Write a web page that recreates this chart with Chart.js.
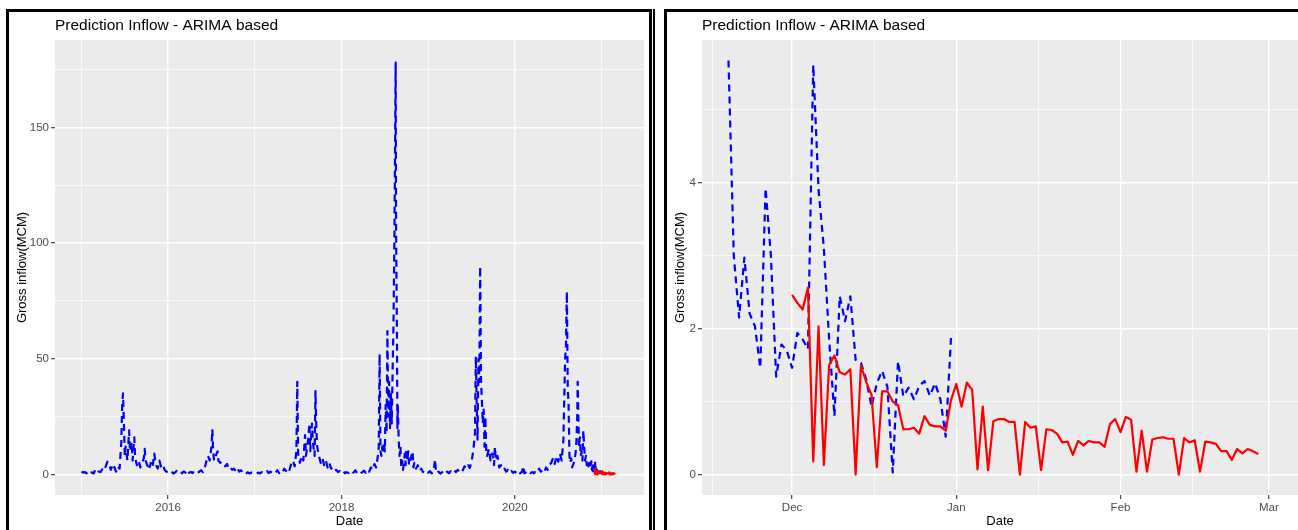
<!DOCTYPE html>
<html>
<head>
<meta charset="utf-8">
<title>Prediction Inflow - ARIMA based</title>
<script src="https://cdn.jsdelivr.net/npm/chart.js@4.4.1/dist/chart.umd.min.js"></script>
<style>
  html, body { margin: 0; padding: 0; background: #fff; }
  body { position: relative; width: 1298px; height: 530px; overflow: hidden; }
  canvas { position: absolute; }
  .frame { position: absolute; box-sizing: border-box; border: 3px solid #000; pointer-events: none; }
  .rule { position: absolute; background: #000; pointer-events: none; }
</style>
</head>
<body>
<canvas id="fullChart" width="640" height="518" style="left:9px;top:12px;width:640px;height:518px"></canvas>
<canvas id="zoomChart" width="631" height="517" style="left:667px;top:13px;width:631px;height:517px"></canvas>
<div class="frame" style="left:6px;top:9px;width:646px;height:560px"></div>
<div class="rule" style="left:653px;top:9px;width:2px;height:560px"></div>
<div class="frame" style="left:664px;top:9px;width:700px;height:560px"></div>

<script>
'use strict';

// ─── Observed inflow, full record (decimal year, MCM) ───
const histYear = [
  2015.00, 2015.02, 2015.04, 2015.06, 2015.08, 2015.10, 2015.12, 2015.14, 2015.16, 2015.18, 2015.20, 2015.22, 2015.24, 2015.26, 2015.28, 2015.30, 2015.32, 2015.34, 2015.36, 2015.38, 2015.40, 2015.42, 2015.44,
  2015.46, 2015.47, 2015.48, 2015.49, 2015.50, 2015.51, 2015.53, 2015.55, 2015.56, 2015.58, 2015.59, 2015.61, 2015.62, 2015.64, 2015.66, 2015.68, 2015.70, 2015.72, 2015.73, 2015.74, 2015.76, 2015.78, 2015.80, 2015.82, 2015.84, 2015.86, 2015.88, 2015.90, 2015.92, 2015.94, 2015.96, 2015.98,

  2016.00, 2016.02, 2016.04, 2016.06, 2016.08, 2016.10, 2016.12, 2016.14, 2016.16, 2016.18, 2016.20, 2016.22, 2016.24, 2016.26, 2016.28, 2016.30, 2016.32, 2016.34, 2016.36, 2016.38, 2016.40, 2016.42, 2016.44, 2016.46, 2016.48, 2016.50,
  2016.51, 2016.52, 2016.53, 2016.55, 2016.57, 2016.58,
  2016.60, 2016.62, 2016.64, 2016.66, 2016.68, 2016.70, 2016.72, 2016.74, 2016.76, 2016.78, 2016.80, 2016.82, 2016.84, 2016.86, 2016.88, 2016.90, 2016.92, 2016.94, 2016.96, 2016.98,

  2017.00, 2017.02, 2017.04, 2017.06, 2017.08, 2017.10, 2017.12, 2017.14, 2017.16, 2017.18, 2017.20, 2017.22, 2017.24, 2017.26, 2017.28, 2017.30, 2017.32, 2017.34, 2017.36, 2017.38, 2017.40, 2017.42, 2017.44, 2017.46,
  2017.48, 2017.49, 2017.50, 2017.52, 2017.54, 2017.56, 2017.58, 2017.59, 2017.61, 2017.63, 2017.64, 2017.66, 2017.67, 2017.69, 2017.70, 2017.71, 2017.72, 2017.74, 2017.76, 2017.78, 2017.80, 2017.82, 2017.84, 2017.86, 2017.88, 2017.90, 2017.92, 2017.94, 2017.96, 2017.98,

  2018.00, 2018.02, 2018.04, 2018.06, 2018.08, 2018.10, 2018.12, 2018.14, 2018.16, 2018.18, 2018.20, 2018.22, 2018.24, 2018.26, 2018.28, 2018.30, 2018.32, 2018.34, 2018.36, 2018.38, 2018.40,
  2018.42, 2018.43, 2018.44, 2018.45, 2018.46, 2018.47, 2018.48, 2018.49, 2018.50, 2018.51, 2018.52, 2018.53, 2018.54, 2018.55, 2018.56, 2018.57, 2018.58, 2018.59, 2018.60, 2018.61, 2018.62,
  2018.625, 2018.63, 2018.64, 2018.645, 2018.65,
  2018.66, 2018.67, 2018.68, 2018.69, 2018.70, 2018.71, 2018.72, 2018.73, 2018.74, 2018.75, 2018.76, 2018.77, 2018.78,
  2018.80, 2018.82, 2018.83, 2018.84, 2018.86, 2018.88, 2018.90, 2018.92, 2018.94, 2018.96, 2018.98,

  2019.00, 2019.02, 2019.04, 2019.06, 2019.08, 2019.09,
  2019.10, 2019.12, 2019.14, 2019.16, 2019.18, 2019.20, 2019.22, 2019.24, 2019.26, 2019.28, 2019.30, 2019.32, 2019.34, 2019.36, 2019.38, 2019.40, 2019.42, 2019.44, 2019.46, 2019.48, 2019.50,
  2019.52, 2019.54,
  2019.55, 2019.56, 2019.57, 2019.58, 2019.59, 2019.60, 2019.61, 2019.62, 2019.63, 2019.64, 2019.65, 2019.66, 2019.67, 2019.68,
  2019.70, 2019.72, 2019.74, 2019.76, 2019.77, 2019.78,
  2019.80, 2019.82, 2019.84, 2019.86, 2019.88, 2019.90, 2019.92, 2019.94, 2019.96, 2019.98,

  2020.00, 2020.02, 2020.04, 2020.06, 2020.08, 2020.10, 2020.11,
  2020.12, 2020.14, 2020.16, 2020.18, 2020.20, 2020.22, 2020.24, 2020.26, 2020.28, 2020.30, 2020.32, 2020.34, 2020.36, 2020.38, 2020.40, 2020.42, 2020.44, 2020.46, 2020.48, 2020.50, 2020.52, 2020.54, 2020.56, 2020.58,
  2020.59, 2020.60, 2020.61, 2020.62, 2020.63, 2020.64, 2020.65, 2020.66,
  2020.68, 2020.70, 2020.71, 2020.72, 2020.725, 2020.73,
  2020.74, 2020.75, 2020.76, 2020.77, 2020.78, 2020.79, 2020.80, 2020.81, 2020.82, 2020.83, 2020.84, 2020.85, 2020.86, 2020.87
];

const histFlow = [
  1.2, 0.8, 1.0, 0.5, 1.5, 0.6, 0.9, 0.4, 2.0, 0.7, 1.3, 1.0, 2.2, 1.5, 3.5, 5.5, 4.0, 2.0, 4.5, 3.0, 1.2, 3.5, 2.5,
  14, 30, 35, 22, 8, 12, 6, 19, 10, 14, 6, 16, 7, 4, 6, 3, 5, 7, 11, 6, 4, 2, 5, 3, 9, 4, 2.5, 6, 3, 4, 2, 1.2,

  1.0, 0.5, 1.2, 0.4, 0.9, 1.5, 0.6, 1.0, 0.5, 1.3, 0.8, 2.0, 0.7, 1.1, 0.6, 1.4, 0.9, 0.5, 1.2, 1.8, 1.0, 2.5, 5.5, 8, 6, 12,
  19.5, 10, 6, 8, 10, 6,
  5, 5.5, 4, 3.5, 4.5, 2.5, 3, 2, 2.5, 1.5, 2.8, 1.2, 1.8, 0.8, 1.2, 0.5, 0.9, 0.4, 0.8, 0.5,

  0.6, 0.3, 0.8, 0.4, 1.0, 0.5, 0.9, 1.5, 0.6, 1.2, 0.7, 1.4, 0.8, 1.8, 0.6, 1.5, 0.9, 2.5, 1.5, 3.0, 2.0, 4.5, 6, 3.5,
  10, 40, 9, 5, 8, 6, 17, 8, 13, 22, 10, 22, 14, 8, 36, 20, 12, 8, 5, 7, 4, 6, 3, 5, 2.5, 3, 1.5, 2, 1.0, 1.5,

  0.8, 1.5, 0.5, 1.0, 0.6, 1.3, 0.4, 0.9, 1.8, 0.6, 1.2, 0.5, 1.0, 1.6, 0.7, 2.0, 1.2, 3.0, 2.0, 4.5, 3.0,
  8, 12, 52, 10, 8, 12, 9, 14, 10, 30, 18, 62, 25, 40, 20, 35, 22, 45, 65, 100, 150,
  178, 105, 60, 20, 30,
  15, 8, 12, 3, 6, 2, 5, 9, 4, 11, 6, 10, 4,
  7, 10, 3, 5, 2.5, 4, 1.5, 2.5, 1.0, 1.8, 0.8,

  0.8, 1.4, 0.5, 1.0, 6.5, 1.0,
  0.5, 1.2, 0.4, 0.9, 1.6, 0.6, 1.2, 0.5, 1.4, 0.8, 1.8, 1.0, 2.0, 1.3, 2.5, 1.8, 3.5, 2.5, 4.0, 2.8, 5.5,
  10, 18,
  51, 30, 15, 50, 40, 90, 40, 32, 22, 28, 12, 25, 10, 8,
  11, 6, 9, 4, 12, 6,
  8, 3, 4, 2, 2.5, 1.2, 2.0, 0.8, 1.5, 0.7,

  1.2, 0.6, 1.5, 0.5, 1.0, 3.6, 0.5,
  0.9, 0.4, 1.2, 0.6, 1.0, 0.5, 1.4, 0.8, 2.5, 1.2, 1.8, 0.9, 3.0, 2.0, 4.0, 5.0, 7.0, 4.5, 8.0, 5.5, 9.0, 6.0, 15, 50,
  56, 79, 38, 30, 8, 5, 7, 3,
  5, 9, 14, 25, 40, 30,
  12, 16, 8, 10, 6, 19, 12, 6, 8, 4, 6, 3.5, 5, 3
];

// ─── Observed inflow, last weeks (day 0 = 1 Dec 2020, starts 19 Nov) ───
const tailFirstDay = -12;
const tailFlow = [
  5.67, 3.0, 2.15, 2.97, 2.2, 2.03, 1.46, 3.92, 3.0, 1.34, 1.78, 1.7,
  1.46, 1.94, 1.85, 1.72, 5.61, 3.9, 3.1, 1.85, 0.8, 2.44,
  2.1, 2.44, 1.57, 1.53, 1.3, 0.93, 1.25, 1.42, 1.2, 0.03,
  1.55, 1.07, 1.19, 1.03, 1.21, 1.28, 1.08, 1.25, 1.03, 0.52,
  1.87
];

// ─── ARIMA forecast (day 0 = 1 Dec 2020 ... 27 Feb 2021) ───
const forecastFlow = [
  2.46, 2.35, 2.26, 2.56, 0.18, 2.03, 0.13, 1.5, 1.63, 1.4,
  1.37, 1.44, 0.0, 1.49, 1.27, 1.09, 0.1, 1.14, 1.14, 1.0,
  0.95, 0.62, 0.62, 0.64, 0.56, 0.8, 0.68, 0.66, 0.66, 0.6,
  1.02, 1.24, 0.93, 1.26, 1.16, 0.07, 0.93, 0.06, 0.73, 0.76,
  0.76, 0.72, 0.72, 0.0, 0.72, 0.64, 0.66, 0.06, 0.62, 0.61,
  0.56, 0.44, 0.45, 0.27, 0.46, 0.4, 0.46, 0.44, 0.44, 0.38,
  0.69, 0.76, 0.58, 0.79, 0.75, 0.04, 0.6, 0.04, 0.48, 0.5,
  0.51, 0.49, 0.49, 0.0, 0.5, 0.44, 0.47, 0.04, 0.45, 0.44,
  0.42, 0.32, 0.32, 0.2, 0.35, 0.29, 0.35, 0.32, 0.28
];

// ─── Axis breaks ───
const fullYearMajor = [2016, 2018, 2020];
const fullYearMinor = [2015, 2017, 2019, 2021];
const fullFlowMajor = [0, 50, 100, 150];
const fullFlowMinor = [25, 75, 125, 175];

const monthDays = [0, 31, 62, 90];          // Dec, Jan, Feb, Mar
const monthLabels = ['Dec', 'Jan', 'Feb', 'Mar'];
const monthMinorDays = [-15, 15.5, 46.5, 75.5];
const zoomFlowMajor = [0, 2, 4];
const zoomFlowMinor = [1, 3, 5];

const FONT = "'Liberation Sans', Arial, Helvetica, sans-serif";
const BLUE = '#0000FF';
const RED = '#FF0000';

// day offset from 1 Dec 2020 -> decimal year
function dayToYear(d) {
  return d < 31 ? 2020 + (335 + d) / 366 : 2021 + (d - 31) / 365;
}

// ggplot-ish grey panel behind the plot area
const panelBackground = {
  id: 'panelBackground',
  beforeDraw(chart) {
    const { ctx, chartArea: a } = chart;
    ctx.save();
    ctx.fillStyle = '#EBEBEB';
    ctx.fillRect(a.left, a.top, a.right - a.left, a.bottom - a.top);
    ctx.restore();
  }
};

function ggAxis({ min, max, major, minor, label, title, size, titlePad }) {
  const isMajor = v => major.includes(v);
  return {
    type: 'linear',
    min, max,
    afterBuildTicks: axis => {
      axis.ticks = [...major, ...minor].sort((a, b) => a - b).map(v => ({ value: v }));
    },
    afterFit: axis => {
      if (axis.isHorizontal()) axis.height = size; else axis.width = size;
    },
    grid: {
      color: '#FFFFFF',
      lineWidth: c => (c.tick && isMajor(c.tick.value) ? 1.4 : 0.7),
      drawTicks: true,
      tickLength: 4,
      tickWidth: 1.1,
      tickColor: c => (c.tick && isMajor(c.tick.value) ? '#333333' : 'rgba(0,0,0,0)'),
    },
    border: { display: false },
    ticks: {
      autoSkip: false,
      maxRotation: 0,
      padding: 2,
      color: '#4D4D4D',
      font: { family: FONT, size: 11.5 },
      callback: v => (isMajor(v) ? label(v) : ''),
    },
    title: {
      display: true,
      text: title,
      color: '#000000',
      font: { family: FONT, size: 13 },
      padding: titlePad,
    },
  };
}

function lineSet(points, color, dashed) {
  return {
    data: points,
    borderColor: color,
    borderWidth: 2.2,
    borderDash: dashed ? [7, 5] : [],
    borderCapStyle: 'butt',
    borderJoinStyle: 'round',
    pointRadius: 0,
    tension: 0,
    fill: false,
  };
}

function baseOptions(titlePad, layoutPad, scales) {
  return {
    responsive: false,
    animation: false,
    devicePixelRatio: 1,
    layout: { padding: layoutPad },
    plugins: {
      legend: { display: false },
      tooltip: { enabled: false },
      title: {
        display: true,
        text: 'Prediction Inflow - ARIMA based',
        align: 'start',
        fullSize: false,
        color: '#000000',
        font: { family: FONT, size: 15.5, weight: 'normal' },
        padding: titlePad,
      },
    },
    scales,
  };
}

// ─── Left: whole record ───
const fullObserved = histYear.map((x, i) => ({ x, y: histFlow[i] }))
  .concat(tailFlow.map((y, i) => ({ x: dayToYear(tailFirstDay + i), y })));
const fullForecast = forecastFlow.map((y, d) => ({ x: dayToYear(d), y }));

new Chart(document.getElementById('fullChart'), {
  type: 'line',
  data: { datasets: [lineSet(fullForecast, RED, false), lineSet(fullObserved, BLUE, true)] },
  options: baseOptions({ top: 4.2, bottom: 5.2 }, { top: 0, left: 0, right: 5, bottom: 0 }, {
    x: ggAxis({ min: 2014.695, max: 2021.49, major: fullYearMajor, minor: fullYearMinor,
      label: v => String(v), title: 'Date', size: 35, titlePad: { top: 0, bottom: 0.5 } }),
    y: ggAxis({ min: -8.9, max: 187.8, major: fullFlowMajor, minor: fullFlowMinor,
      label: v => String(v), title: 'Gross inflow(MCM)', size: 46, titlePad: { top: 5.2, bottom: 0 } }),
  }),
  plugins: [panelBackground],
});

// ─── Right: Dec 2020 – Feb 2021 close-up ───
const zoomObserved = tailFlow.map((y, i) => ({ x: tailFirstDay + i, y }));
const zoomForecast = forecastFlow.map((y, d) => ({ x: d, y }));

new Chart(document.getElementById('zoomChart'), {
  type: 'line',
  data: { datasets: [lineSet(zoomForecast, RED, false), lineSet(zoomObserved, BLUE, true)] },
  options: baseOptions({ top: 3.2, bottom: 5.2 }, { top: 0, left: 0, right: 0, bottom: 0 }, {
    x: ggAxis({ min: -17, max: 95.5, major: monthDays, minor: monthMinorDays,
      label: v => monthLabels[monthDays.indexOf(v)], title: 'Date', size: 35, titlePad: { top: 0, bottom: 0.5 } }),
    y: ggAxis({ min: -0.28, max: 5.95, major: zoomFlowMajor, minor: zoomFlowMinor,
      label: v => String(v), title: 'Gross inflow(MCM)', size: 35, titlePad: { top: 5.7, bottom: 0 } }),
  }),
  plugins: [panelBackground],
});
</script>
</body>
</html>
